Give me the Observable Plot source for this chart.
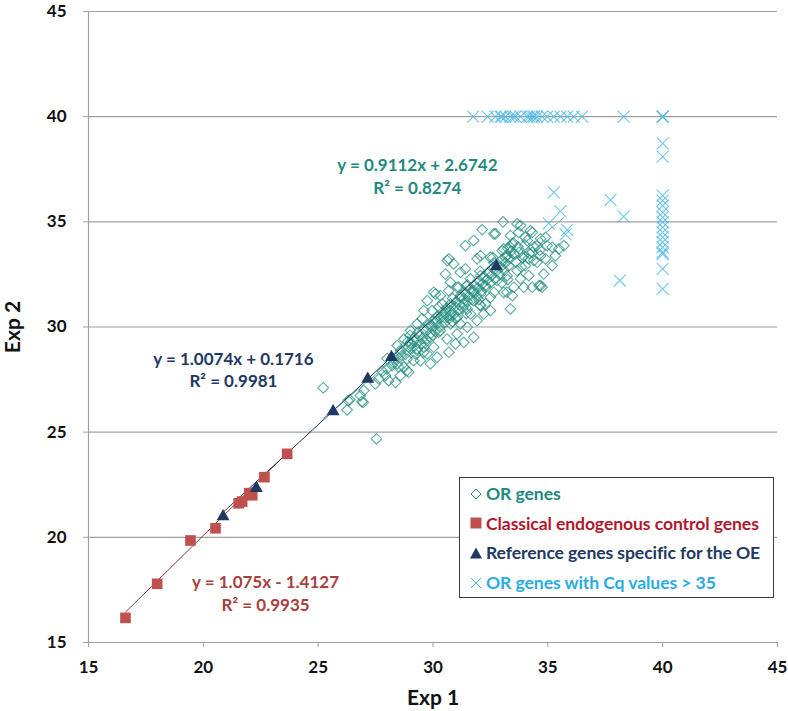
<!DOCTYPE html>
<html><head><meta charset="utf-8">
<script src="https://cdn.jsdelivr.net/npm/d3@7"></script>
<script src="https://cdn.jsdelivr.net/npm/@observablehq/plot@0.6"></script>
<style>
body{margin:0;background:#fff;}
#wrap{position:relative;width:788px;height:711px;font-family:Lato,sans-serif;}
#legend{position:absolute;left:459px;top:477px;width:315px;height:121px;border:1px solid #3a3a3a;box-sizing:border-box;background:#fff;padding-top:1px;}
.row{display:flex;align-items:center;height:29.6px;font-weight:bold;font-size:17.6px;white-space:nowrap;letter-spacing:-0.1px;}
.row svg{margin-left:10px;margin-right:4px;flex:none;}
</style>
</head><body><div id="wrap"></div>
<script>
// ---- data ----
const xTicks = [15, 20, 25, 30, 35, 40, 45];
const yTicks = [15, 20, 25, 30, 35, 40, 45];

const seriesNames = ["OR genes", "Classical endogenous control genes", "Reference genes specific for the OE", "OR genes with Cq values > 35"];
const seriesColors = ["#1f8c7c", "#c0504d", "#1f3864", "#47b8e8"];
const legendTextColors = ["#1e8a7f", "#b0182e", "#1f3864", "#2aace2"];

const orGenes = [
 [25.22,27.11],[27.54,24.68],[26.26,26.06],[26.38,26.54],[26.84,26.74],[26.96,26.42],[26.99,26.98],[27.49,27.30],[27.64,27.53],[27.93,27.69],
 [28.07,27.45],[28.37,27.37],[28.58,27.69],[28.94,27.85],[28.22,28.17],[28.44,28.25],[28.0,28.01],[28.65,28.64],[28.87,28.48],[29.24,28.72],
 [29.45,28.40],[28.44,29.12],[29.02,29.20],[29.60,29.04],[29.75,28.72],[29.31,28.96],[26.3,26.5],[26.9,26.45],
 [30.03,31.65],[30.69,31.73],[30.32,31.49],[31.05,31.89],[29.75,31.25],[29.53,30.39],[29.31,30.15],[29.02,29.83],[28.73,29.43],[28.58,28.80],
 [28.94,29.04],[29.89,29.51],[30.03,29.04],[29.60,28.80],[29.16,28.40],[28.73,28.09],[30.32,29.83],[30.61,29.43],[31.05,29.67],[31.49,29.99],
 [31.92,30.30],[32.21,30.62],[31.63,30.62],[31.05,30.46],[30.76,30.78],[30.47,30.46],[31.34,31.10],[31.77,31.25],[32.07,31.57],[32.28,31.10],
 [30.69,28.80],[30.18,28.56],[29.89,28.25],[30.98,29.20],[31.34,29.27],[31.77,29.51],[31.19,30.15],[30.76,30.15],[29.96,30.78],[29.60,30.78],
 [30.11,30.39],[29.02,29.27],[28.29,28.48],[28.87,27.93],
 [32.14,34.63],[32.72,34.43],[31.77,34.11],[31.41,33.87],[33.73,34.50],[34.24,34.58],[34.68,34.19],[34.97,33.87],[34.10,34.11],[33.45,33.95],
 [33.08,33.71],[30.62,33.16],[31.41,32.76],[31.19,32.60],[31.92,33.24],[32.50,33.31],[33.15,33.31],[33.52,33.47],[33.95,33.39],[34.32,33.55],
 [34.68,33.39],[34.53,33.08],[34.02,32.92],[33.66,32.68],[33.23,32.44],[32.79,32.21],[30.54,32.52],[30.76,32.12],[31.12,31.89],[31.63,32.29],
 [32.07,32.44],[32.28,31.97],[31.77,31.73],[31.19,31.41],[30.76,31.10],[32.50,31.41],[33.08,31.65],[33.52,31.89],[33.95,31.89],[34.32,31.89],
 [34.61,31.97],[33.45,31.49],[33.37,30.86],[32.50,30.78],[32.07,31.02],[31.49,30.86],[34.82,32.52],[34.17,32.44],[33.81,32.29],
 [33.05,35.0],[33.81,34.82],[34.32,34.50],[33.37,34.34],[34.02,34.26],[34.90,34.26],[34.53,33.87],[35.19,33.79],[35.48,33.71],[35.70,33.87],
 [35.33,33.39],[34.90,33.24],[35.19,32.92],[34.39,33.16],[34.68,31.97],[33.37,33.79],[33.01,33.63],
 [34.75,31.89],[32.65,34.43],[30.69,33.24],[30.11,31.57],[33.66,34.90],[33.22,31.65],[30.9,33.0],[32.07,33.39],
 [28.6,28.9],[28.8,28.7],[28.9,29.3],[29.1,29.0],[29.2,29.5],[29.3,28.9],[29.4,29.6],[29.5,29.2],[29.6,29.9],[29.7,29.4],
 [29.8,30.1],[29.9,29.7],[30.0,30.3],[30.1,29.8],[30.2,30.5],[30.3,30.0],[30.4,30.7],[30.5,30.2],[30.6,30.9],[30.7,30.4],
 [30.8,31.0],[30.9,30.6],[31.0,31.2],[31.1,30.8],[31.2,31.5],[31.3,30.9],[31.4,31.6],[31.5,31.2],[31.6,31.8],[31.7,31.3],
 [31.8,32.0],[31.9,31.5],[32.0,32.2],[32.1,31.7],[32.2,32.4],[32.3,31.9],[32.4,32.6],[32.5,32.1],[32.6,32.8],[32.7,32.3],
 [32.8,33.0],[32.9,32.5],[33.0,33.2],[33.1,32.7],[33.2,33.4],[33.3,32.9],[33.4,33.6],[33.6,33.1],[33.7,33.8],[33.9,33.3],
 [34.0,33.9],[34.2,33.5],[34.4,33.8],[29.0,29.6],[30.0,29.6],[30.4,31.1],[31.0,30.4],[31.5,32.0],[32.0,31.3],[32.6,33.3],
 [33.0,32.1],[33.5,34.0],[28.3,28.3],[28.0,28.5],[27.8,27.9],[28.5,28.1],
 [29.15,29.35],[29.35,29.75],[29.55,29.45],[29.75,29.95],[29.95,30.05],[30.15,30.25],[30.35,30.45],[30.55,30.65],[30.75,30.55],[30.95,30.95],
 [31.15,31.05],[31.35,31.35],[31.55,31.45],[31.75,31.65],[31.95,31.85],[32.15,32.05],[32.35,32.25],[32.55,32.45],[32.75,32.65],[32.95,32.85],
 [33.15,33.05],[33.35,33.25],[33.55,33.45],[33.75,33.55],[30.25,30.95],[30.85,31.35],[31.45,31.95],[32.05,32.65],[32.65,33.05],[33.25,33.75],
 [29.65,29.25],[30.25,29.75],[30.85,30.25],[31.45,30.65],[32.05,31.05],[32.65,31.65],[33.25,32.25],[33.85,32.85],[34.15,33.25],[34.65,33.65]
];

const controlGenes = [
 [16.61,16.17],[17.99,17.79],[19.44,19.85],[20.53,20.43],[21.54,21.62],[21.69,21.70],[22.0,22.1],[22.13,22.0],[22.66,22.86],[23.65,23.97]
];

const referenceGenes = [
 [20.86,20.99],[22.31,22.33],[25.65,25.98],[27.16,27.53],[28.19,28.56],[32.76,32.87]
];

const highCqGenes = [
 [31.75,40],[32.38,40],[32.72,40],[32.94,40],[33.0,40],[33.15,40],[33.37,40],[33.5,40],[33.59,40],[33.81,40],[34.10,40],[34.2,40],[34.32,40],[34.4,40],
 [34.53,40],[34.75,40],[34.97,40],[35.26,40],[35.55,40],[35.84,40],[36.13,40],[36.49,40],[38.30,40],[40,40],[40,40],[40,40],
 [40,38.73],[40,38.10],[40,36.25],[40,36.01],[40,35.77],[40,35.45],[40,35.21],[40,34.98],[40,34.74],[40,34.50],[40,34.26],[40,34.03],
 [40,33.79],[40,33.55],[40,33.47],[40,32.76],[40,31.81],
 [35.26,36.40],[35.55,35.50],[35.04,34.93],[35.84,34.62],[35.77,34.40],[37.73,36.04],[38.30,35.25],[38.13,32.21]
];

// trend line equations (slope, intercept) as printed on the chart
const trendSlopes = [0.9112, 1.075, 1.0074];
const trendIntercepts = [2.6742, -1.4127, 0.1716];
const trendText = ["y = 0.9112x + 2.6742\nR² = 0.8274", "y = 1.075x - 1.4127\nR² = 0.9935", "y = 1.0074x + 0.1716\nR² = 0.9981"];
const trendTextColors = ["#23887f", "#a8403d", "#1f3864"];

// ---- build ----
function trend(data, i) {
  const xs = data.map(d => d[0]);
  const x0 = d3.min(xs), x1 = d3.max(xs);
  return [[x0, trendSlopes[i]*x0 + trendIntercepts[i]], [x1, trendSlopes[i]*x1 + trendIntercepts[i]]];
}
const labelPos = [{x: 29.32, y: 37.22}, {x: 22.71, y: 17.40}, {x: 21.31, y: 28.02}];
const labels = trendText.map((t, i) => ({...labelPos[i], text: t, color: trendTextColors[i]}));

const grid = "#a0a0a0";
const chart = Plot.plot({
  width: 788, height: 711,
  marginLeft: 88, marginRight: 11, marginTop: 11, marginBottom: 69,
  style: {fontFamily: "Lato, sans-serif", fontWeight: "bold", fontSize: "17px", color: "#111", background: "#fff"},
  x: {domain: [15, 45]},
  y: {domain: [15, 45]},
  marks: [
    Plot.gridY(yTicks, {stroke: grid, strokeOpacity: 1, strokeWidth: 1.2}),
    Plot.ruleX([15], {stroke: grid, strokeWidth: 1.2}),
    Plot.ruleY([15], {stroke: grid, strokeWidth: 1.2}),
    Plot.axisY({ticks: yTicks, tickSize: 5, tickPadding: 17, stroke: grid, label: "Exp 2", labelAnchor: "center", labelArrow: "none", labelOffset: 83, fontSize: 21, fill: "#111"}),
    Plot.axisX({ticks: xTicks, tickSize: 5, tickPadding: 13, stroke: grid, label: "Exp 1", labelAnchor: "center", labelArrow: "none", labelOffset: 62, fontSize: 21, fill: "#111"}),
    Plot.dot(orGenes, {x: d => d[0], y: d => d[1], symbol: "diamond2", r: 4.8, stroke: seriesColors[0], strokeOpacity: 0.72, strokeWidth: 1.1, fill: "none"}),
    Plot.line(trend(orGenes, 0), {x: d => d[0], y: d => d[1], stroke: "#5fb3aa", strokeWidth: 1}),
    Plot.line(trend(controlGenes, 1), {x: d => d[0], y: d => d[1], stroke: "#8c3b3b", strokeWidth: 1}),
    Plot.line(trend(referenceGenes, 2), {x: d => d[0], y: d => d[1], stroke: "#1f3864", strokeWidth: 1}),
    Plot.dot(controlGenes, {x: d => d[0], y: d => d[1], symbol: "square", r: 6, fill: seriesColors[1], stroke: "none"}),
    Plot.dot(referenceGenes, {x: d => d[0], y: d => d[1], symbol: "triangle", r: 4.8, fill: seriesColors[2], stroke: "none"}),
    Plot.dot(highCqGenes, {x: d => d[0], y: d => d[1], symbol: "times", r: 5.5, stroke: seriesColors[3], strokeOpacity: 0.8, strokeWidth: 1.1}),
    Plot.text(labels, {x: "x", y: "y", text: "text", fill: "color", fontSize: 17, fontWeight: "bold", lineHeight: 1.35, textAnchor: "middle"})
  ]
});
chart.querySelectorAll('[aria-label="y-axis tick label"] text, [aria-label="x-axis tick label"] text').forEach(t => t.setAttribute("font-size", "17"));
document.getElementById("wrap").appendChild(chart);

// legend
const legend = document.createElement("div");
legend.id = "legend";
const symbolsSvg = [
  c => `<polygon points="6,1 11,6 6,11 1,6" fill="none" stroke="${c}" stroke-width="1"/>`,
  c => `<rect x="0.5" y="0.5" width="11" height="11" fill="${c}"/>`,
  c => `<polygon points="6,0.5 12,11.5 0,11.5" fill="${c}"/>`,
  c => `<path d="M1,1L11,11M1,11L11,1" stroke="${c}" stroke-width="1"/>`
];
seriesNames.forEach((name, i) => {
  const row = document.createElement("div");
  row.className = "row";
  row.innerHTML = `<svg width="12" height="12" viewBox="0 0 12 12">${symbolsSvg[i](seriesColors[i])}</svg><span style="color:${legendTextColors[i]}">${name.replace(">", "&gt;")}</span>`;
  legend.appendChild(row);
});
document.getElementById("wrap").appendChild(legend);
</script>
</body></html>
